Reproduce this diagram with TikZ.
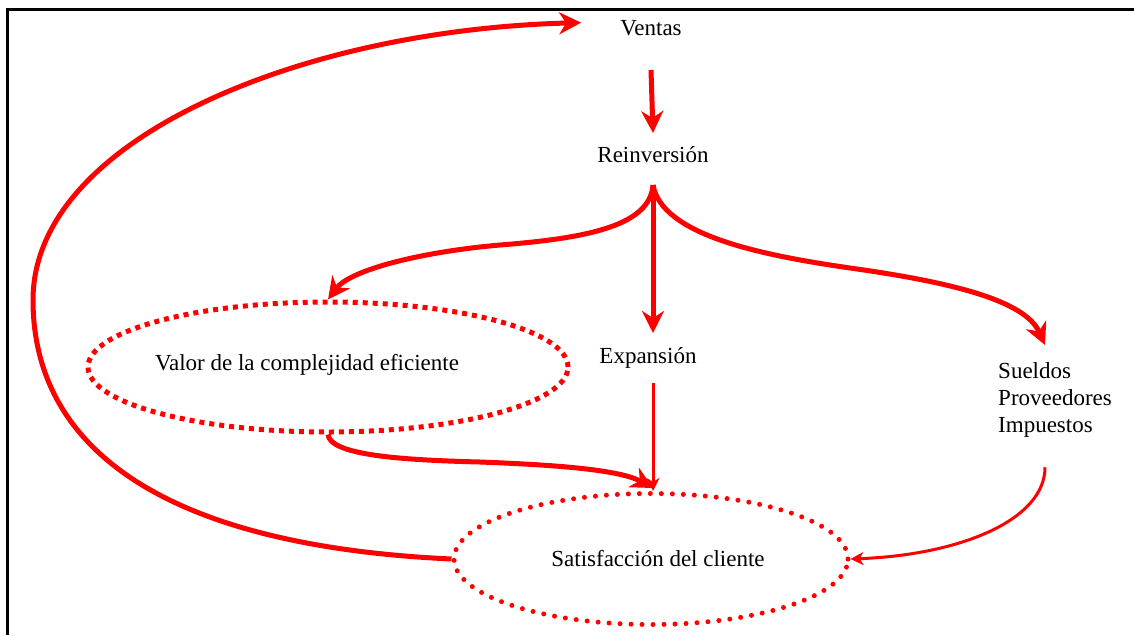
\documentclass[tikz,border=0pt]{standalone}
\usepackage{fontspec}
\setmainfont{Liberation Serif}
\usetikzlibrary{arrows.meta,shapes.geometric}
\definecolor{rd}{RGB}{255,0,0}
\tikzset{
  txt/.style={inner sep=0pt,font=\fontsize{23}{27}\selectfont},
  thickarr/.style={draw=rd,line width=5pt,-{Stealth[length=22pt,width=22pt,inset=7pt]}},
  thinarr/.style={draw=rd,line width=3pt,-{Stealth[length=13pt,width=13pt,inset=4pt]}},
  sqdots/.style={draw=rd,line width=5pt,dash pattern=on 5pt off 5pt},
  rddots/.style={draw=rd,line width=5pt,line cap=round,dash pattern=on 0pt off 11pt},
  frameline/.style={draw=black,line width=3pt}
}
\begin{document}
\begin{tikzpicture}[x=1pt,y=-1pt]
\useasboundingbox (0,0) rectangle (1134,635);
\fill[white] (0,0) rectangle (1134,635);
% frame
\coordinate (ftl) at (7,9.5);
\coordinate (ftr) at (1134,9.5);
\coordinate (fbl) at (7,635);
\draw[frameline] (ftr) -- (ftl) -- (fbl);
% nodes
\node[txt,anchor=base] (ventas) at (651,35) {Ventas};
\node[txt,anchor=base] (reinv) at (653,162) {Reinversión};
\node[txt,anchor=base] (expan) at (648,363) {Expansión};
\node[ellipse,sqdots,minimum width=480pt,minimum height=130pt,inner sep=0pt] (valor) at (328,367) {};
\node[txt,anchor=base] (valortxt) at (307,370) {Valor de la complejidad eficiente};
\node[ellipse,rddots,minimum width=394pt,minimum height=131pt,inner sep=0pt,txt] (sat) at (651,559) {\hspace*{14pt}Satisfacción del cliente};
\node[txt,anchor=north west,align=left] (sueldos) at (998,362) {Sueldos\\Proveedores\\Impuestos};
% connectors
\coordinate (rb) at ([yshift=-23pt]reinv.base);
\draw[thickarr] ([yshift=-35pt]ventas.base) -- ([yshift=29pt]reinv.base);
\draw[thickarr] (rb) .. controls (650,225) and (590,238) .. (500,245)
   .. controls (420,252) and (350,270) .. (valor.north);
\draw[thickarr] (rb) -- ([xshift=5pt,yshift=30pt]expan.base);
\draw[thickarr] (rb) .. controls (662,235) and (760,255) .. (850,268)
   .. controls (950,282) and (1025,300) .. ([xshift=47pt,yshift=17pt]sueldos.north west);
\draw[thinarr] ([xshift=5pt,yshift=-20pt]expan.base) -- ([xshift=5pt,yshift=-128pt]expan.base);
\draw[thickarr] (valor.south) .. controls (330,455) and (400,460) .. (480,462)
   .. controls (560,465) and (620,470) .. ([xshift=2pt,yshift=3pt]sat.north);
\draw[thinarr] ([xshift=47pt,yshift=-30pt]sueldos.south west) .. controls (1045,520) and (960,555) .. (sat.east);
\draw[thickarr] (sat.west) .. controls (150,545) and (33,440) .. (33,300)
   .. controls (33,140) and (300,30) .. ([xshift=-39pt,yshift=5pt]ventas.west);
\end{tikzpicture}
\end{document}
